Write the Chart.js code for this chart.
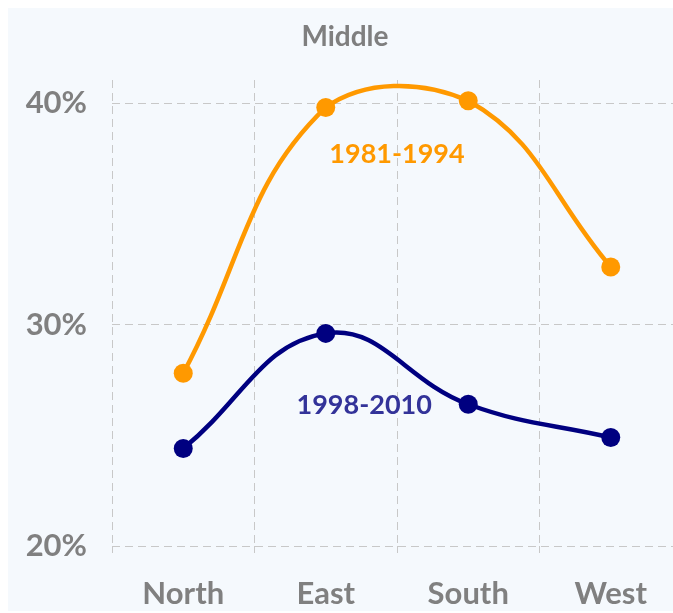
<!DOCTYPE html>
<html lang="en">
<head>
    <meta charset="UTF-8">
    <title>Middle</title>
    <script src="https://cdn.jsdelivr.net/npm/chart.js"></script>
    <style>
        body { margin: 0; overflow: hidden; background: #fff; }
        #panel {
            position: absolute;
            left: 8px;
            top: 8px;
            width: 736px;
            height: 603px;
            background: #f5f9fd;
        }
    </style>
</head>
<body>
    <div id="panel"><canvas id="lineCanvas"></canvas></div>

    <script>
        // Chart data
        const regions = ['North', 'East', 'South', 'West'];
        const period1 = [27.8, 39.8, 40.1, 32.6];
        const period2 = [24.4, 29.6, 26.4, 24.9];
        const seriesNames = ['1981-1994', '1998-2010'];
        const yTicks = [20, 30, 40];

        const FONT = 'Lato, "Open Sans", sans-serif';
        const GRAY = '#808080';

        // where the series names sit (in axis units)
        const namePos = [
            { x: 1.5, y: 37.7, color: '#ff9900' },
            { x: 1.27, y: 26.35, color: '#333399' },
        ];

        const seriesNamesPlugin = {
            id: 'seriesNames',
            afterDatasetsDraw(chart) {
                const { ctx, scales } = chart;
                ctx.save();
                ctx.font = 'bold 27px ' + FONT;
                ctx.textAlign = 'center';
                ctx.textBaseline = 'middle';
                namePos.forEach((p, i) => {
                    ctx.fillStyle = p.color;
                    ctx.fillText(seriesNames[i], scales.x.getPixelForValue(p.x), scales.y.getPixelForValue(p.y));
                });
                ctx.restore();
            }
        };

        const lineConfig = {
            type: 'line',
            data: {
                labels: regions,
                datasets: [
                    {
                        label: seriesNames[0],
                        data: period1,
                        borderColor: '#ff9900',
                        backgroundColor: '#ff9900',
                    },
                    {
                        label: seriesNames[1],
                        data: period2,
                        borderColor: '#000080',
                        backgroundColor: '#000080',
                    },
                ],
            },
            options: {
                responsive: true,
                maintainAspectRatio: false,
                animation: false,
                layout: { padding: { left: 0, right: 62, top: 0, bottom: 0 } },
                elements: {
                    line: { tension: 0.42, borderWidth: 4.5 },
                    point: { radius: 9.5, borderWidth: 0 },
                },
                clip: false,
                plugins: {
                    legend: { display: false },
                    tooltip: { enabled: false },
                    title: {
                        display: true,
                        text: 'Middle',
                        color: '#7f7f7f',
                        font: { family: FONT, size: 28, weight: 'bold' },
                        padding: { top: 12, bottom: 26.4 },
                    },
                },
                scales: {
                    x: {
                        offset: true,
                        grid: {
                            offset: true,
                            color: '#c8c8c8',
                            drawTicks: true,
                            tickLength: 7,
                        },
                        border: { display: false, dash: [8, 5] },
                        ticks: {
                            color: GRAY,
                            padding: 22,
                            font: { family: FONT, size: 31, weight: 'bold' },
                        },
                        afterFit: (scale) => { scale.height = 65; },
                    },
                    y: {
                        min: 20,
                        max: 41.04,
                        afterBuildTicks: (scale) => {
                            scale.ticks = yTicks.map(v => ({ value: v }));
                        },
                        grid: { color: '#c8c8c8', drawTicks: false },
                        border: { display: false, dash: [8, 5] },
                        ticks: {
                            color: GRAY,
                            padding: 25,
                            font: { family: FONT, size: 31, weight: 'bold' },
                            callback: (v) => v + '%',
                        },
                        afterFit: (scale) => { scale.width = 104; },
                    },
                },
            },
            plugins: [seriesNamesPlugin],
        };

        new Chart(document.getElementById('lineCanvas'), lineConfig);
    </script>
</body>
</html>
